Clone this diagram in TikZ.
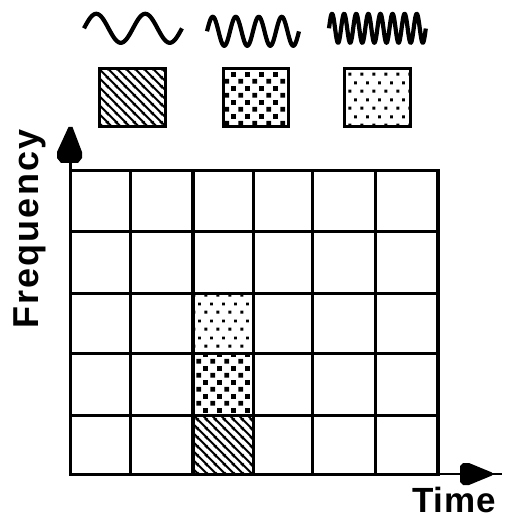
\documentclass[tikz,border=0pt]{standalone}
\usepackage{fontspec}
\setmainfont{Liberation Sans}
\newfontfamily\labfont{Liberation Sans}[LetterSpace=6]
\newfontfamily\timefont{Liberation Sans}[LetterSpace=3]
\usetikzlibrary{patterns.meta}
\tikzdeclarepattern{
  name=hatchNW, type=uncolored,
  bottom left={(0pt,0pt)}, top right={(9pt,9pt)}, tile size={(9pt,9pt)},
  code={
    \draw[line width=2.2pt] (-2pt,11pt) -- (11pt,-2pt);
    \draw[line width=2.2pt] (-2pt,2pt) -- (2pt,-2pt);
    \draw[line width=2.2pt] (7pt,11pt) -- (11pt,7pt);
  }
}
\tikzdeclarepattern{
  name=bigdots, type=uncolored,
  bottom left={(0pt,0pt)}, top right={(14pt,14pt)}, tile size={(14pt,14pt)},
  code={
    \fill (0.5pt,0.5pt) rectangle (5.5pt,5.5pt);
    \fill (7.5pt,7.5pt) rectangle (12.5pt,12.5pt);
  }
}
\tikzdeclarepattern{
  name=smalldots, type=uncolored,
  bottom left={(0pt,0pt)}, top right={(12pt,17pt)}, tile size={(12pt,17pt)},
  code={
    \fill (0.5pt,0.5pt) rectangle (3.5pt,3.5pt);
    \fill (6.5pt,9pt) rectangle (9.5pt,12pt);
  }
}
\begin{document}
\begin{tikzpicture}[x=1pt,y=-1pt,
  gridline/.style={line width=3.3pt,line cap=rect},
  wave/.style={line width=4.2pt,line join=round},
  legend/.style={draw,line width=3.3pt,rectangle,minimum width=65.5pt,minimum height=58.5pt,inner sep=0pt},
  lab/.style={font=\labfont\bfseries\fontsize{36}{36}\selectfont,inner sep=0pt},
  tlab/.style={font=\timefont\bfseries\fontsize{35}{35}\selectfont,inner sep=0pt}
]
\useasboundingbox (0,0) rectangle (504,518);
% waves
\draw[wave] plot[domain=0:2,samples=120] ({84+49*\x},{28.3-14.5*sin(360*\x)});
\draw[wave] plot[domain=0:4,samples=200] ({207+23*\x},{31.3-14.5*sin(360*\x)});
\draw[wave] plot[domain=0:8,samples=320] ({329+12.1*\x},{28.3-14.5*sin(360*\x)});
% legend squares
\node[legend,pattern=hatchNW,pattern color=black] (sqlow) at (132.5,97.5) {};
\node[legend,pattern=bigdots,pattern color=black] (sqmid) at (256,97.5) {};
\node[legend,pattern=smalldots,pattern color=black] (sqhigh) at (377.5,97.5) {};
% filled cells
\fill[pattern=hatchNW,pattern color=black] (193,415.5) rectangle (253.5,474.5);
\fill[pattern=bigdots,pattern color=black] (193,353.5) rectangle (253.5,415.5);
\fill[pattern=smalldots,pattern color=black] (193,293.5) rectangle (253.5,353.5);
% grid
\foreach \x in {70.5,130.5,193,253.5,312.5,375.5,438}
  \draw[gridline] (\x,170.5) -- (\x,474.5);
\foreach \y in {170.5,231.5,293.5,353.5,415.5,474.5}
  \draw[gridline] (70.5,\y) -- (438,\y);
% axes
\coordinate (O) at (70.5,474);
\coordinate (Ytop) at (70.5,135);
\coordinate (Xend) at (502,474);
\draw[line width=3.3pt] (O) -- (Ytop);
\draw[line width=2pt] (O) -- (Xend);
\fill (68.5,127) -- (72.5,127) -- (82,152) -- (82,158) -- (78,163) -- (61,163) -- (57,158) -- (57,152) -- cycle;
\fill (460,466) -- (463,463) -- (469,463) -- (492,472.5) -- (492,475.5) -- (469,485) -- (463,485) -- (460,482) -- cycle;
% labels
\node[lab,rotate=90,anchor=base west] (freq) at (38,329) {Frequency};
\node[tlab,anchor=base west] (time) at (412,512) {Time};
\end{tikzpicture}
\end{document}
